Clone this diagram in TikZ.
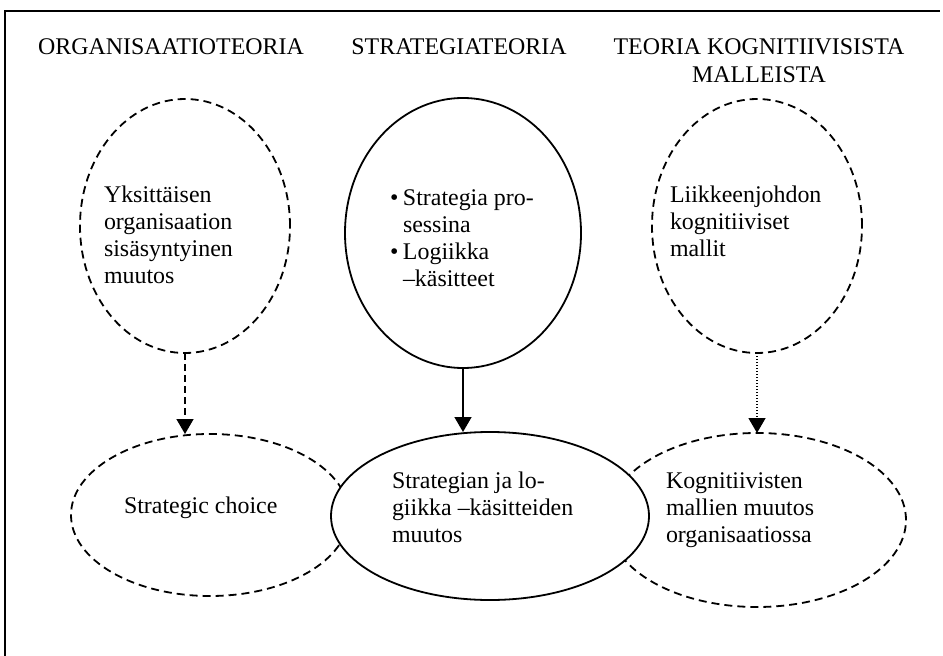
\documentclass[tikz,border=0pt]{standalone}
\usepackage{fontspec}
\setmainfont{Liberation Serif}
\usetikzlibrary{shapes.geometric,arrows.meta}
% stacked lines whose baseline is the baseline of the first line
\newcommand\leftlines[1]{\vtop{\baselineskip=27.3bp\lineskiplimit=-100bp\halign{##\hfil\cr#1\crcr}}}
\newcommand\centrelines[1]{\vtop{\baselineskip=28bp\lineskiplimit=-100bp\halign{\hfil##\hfil\cr#1\crcr}}}
\begin{document}
\begin{tikzpicture}[x=1bp,y=-1bp,
  every node/.style={inner sep=0pt,outer sep=0pt},
  heading/.style={font=\fontsize{24}{28}\selectfont,anchor=base},
  body/.style={font=\fontsize{24}{27.3}\selectfont,anchor=base west},
  bubble/.style={ellipse,draw,line width=1.8bp},
  dashedbubble/.style={bubble,dash pattern=on 8bp off 5bp},
  solidbubble/.style={bubble,fill=white},
  link/.style={line width=1.5bp,-{Triangle[length=15bp,width=17bp]}},
]
\useasboundingbox (0,0) rectangle (943,656);

% frame
\draw[line width=1.8bp] (5,656) -- (5,11) -- (940,11);

% column headings
\node[heading] (h1) at (171,55) {ORGANISAATIOTEORIA};
\node[heading] (h2) at (459,55) {STRATEGIATEORIA};
\node[heading] (h3) at (759,55) {\centrelines{TEORIA KOGNITIIVISISTA\cr MALLEISTA}};

% upper bubbles
\node[dashedbubble,minimum width=210bp,minimum height=254bp] (lc) at (185,226) {};
\node[solidbubble,minimum width=236bp,minimum height=270bp] (mc) at (463,233) {};
\node[dashedbubble,minimum width=210bp,minimum height=254bp] (rc) at (757,226) {};

% lower bubbles (the middle one lies on top)
\node[dashedbubble,minimum width=278bp,minimum height=162bp] (lb) at (210,515) {};
\node[dashedbubble,minimum width=298bp,minimum height=174bp] (rb) at (757,520) {};
\node[solidbubble,minimum width=318bp,minimum height=168bp] (mb) at (490,516) {};

% texts
\node[body] (lct) at (104,202) {\leftlines{Yksittäisen\cr organisaation\cr sisäsyntyinen\cr muutos}};
\node[body] (mct) at (390,205) {\leftlines{\makebox[13bp][l]{•}Strategia pro-\cr \hspace*{13bp}sessina\cr \makebox[13bp][l]{•}Logiikka\cr \hspace*{13bp}–käsitteet}};
\node[body] (rct) at (670,202) {\leftlines{Liikkeenjohdon\cr kognitiiviset\cr mallit}};
\node[body] (lbt) at (124,513) {Strategic choice};
\node[body] (mbt) at (392,488) {\leftlines{Strategian ja lo-\cr giikka –käsitteiden\cr muutos}};
\node[body] (rbt) at (666,488) {\leftlines{Kognitiivisten\cr mallien muutos\cr organisaatiossa}};

% connectors
\draw[link,dash pattern=on 7bp off 4bp] (lc.south) -- (lc.south |- lb.north);
\draw[link] (mc.south) -- (mc.south |- mb.north);
\draw[link,dash pattern=on 1.4bp off 1.6bp] (rc.south) -- (rc.south |- rb.north);
\end{tikzpicture}
\end{document}
